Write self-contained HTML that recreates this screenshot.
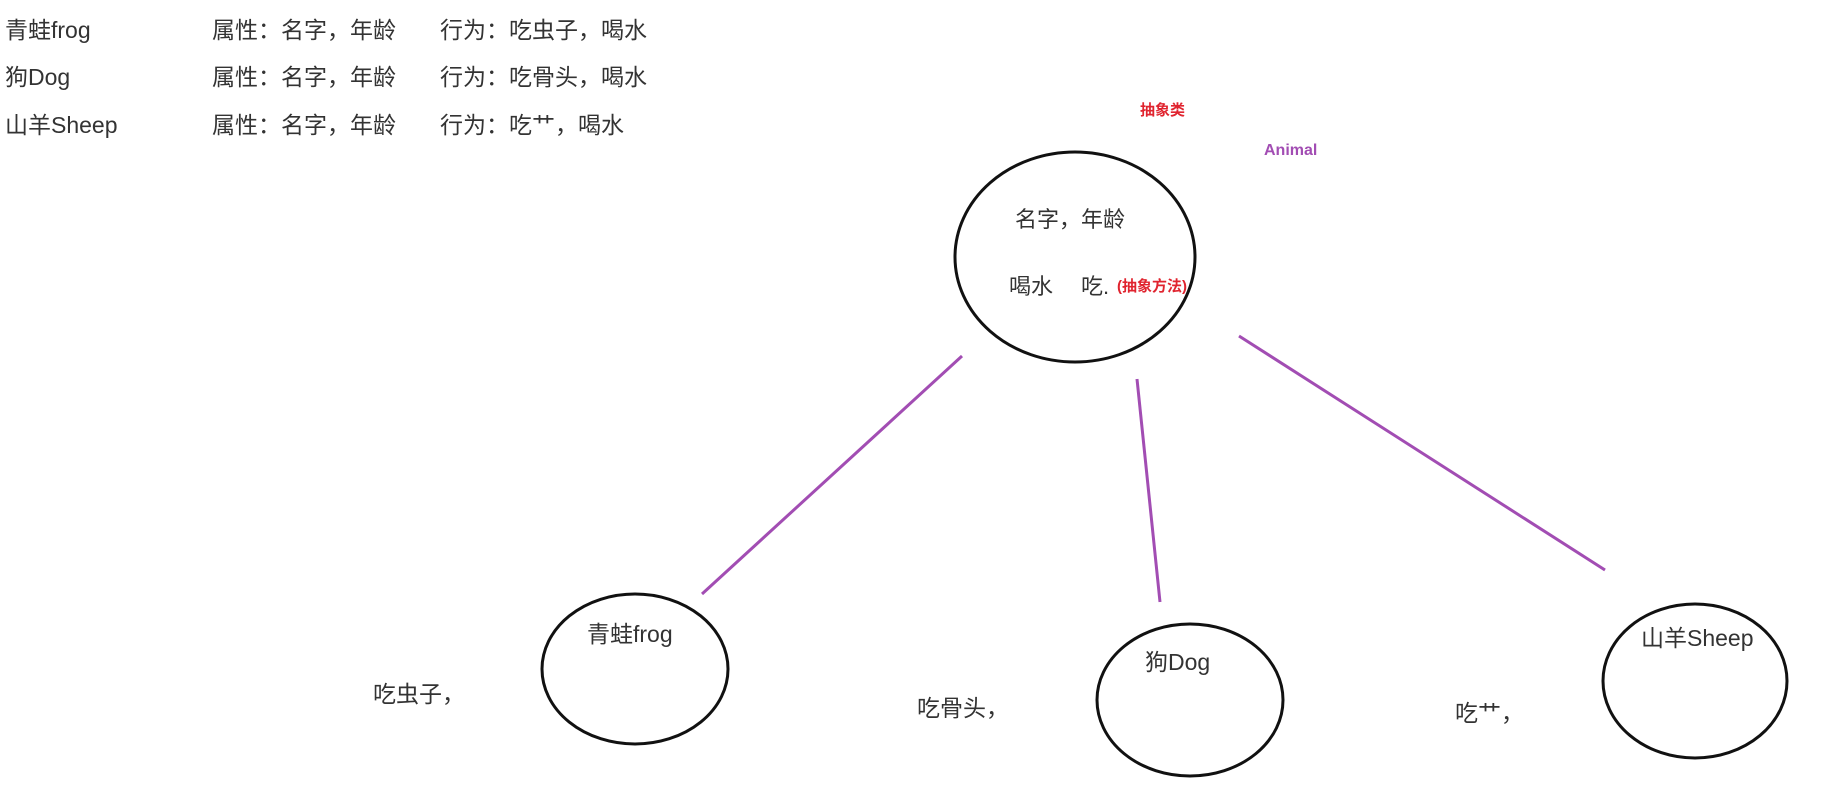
<!DOCTYPE html>
<html><head><meta charset="utf-8"><style>
html,body{margin:0;padding:0;background:#fff;width:1829px;height:799px;overflow:hidden}
.t{position:absolute;font-family:"Liberation Sans","Noto Sans CJK SC",sans-serif;font-size:23px;color:#333;white-space:nowrap;line-height:1}
.m{font-size:22px}
.r{color:#e0242f;font-weight:bold;font-size:15px}
.p{color:#a24db3;font-weight:bold;font-size:16px}
</style></head><body>
<svg width="1829" height="799" style="position:absolute;left:0;top:0">
<g fill="none" stroke="#111" stroke-width="3">
<ellipse cx="1075" cy="257" rx="120" ry="105"/>
<ellipse cx="635" cy="669" rx="93" ry="75"/>
<ellipse cx="1190" cy="700" rx="93" ry="76"/>
<ellipse cx="1695" cy="681" rx="92" ry="77"/>
</g>
<g stroke="#a24db3" stroke-width="3">
<line x1="962" y1="356" x2="702" y2="594"/>
<line x1="1137" y1="379" x2="1160" y2="602"/>
<line x1="1239" y1="336" x2="1605" y2="570"/>
</g>
</svg>
<div class="t" style="left:5px;top:19px">青蛙frog</div>
<div class="t" style="left:5px;top:66px">狗Dog</div>
<div class="t" style="left:5px;top:114px">山羊Sheep</div>
<div class="t" style="left:212px;top:19px">属性：名字，年龄</div>
<div class="t" style="left:212px;top:66px">属性：名字，年龄</div>
<div class="t" style="left:212px;top:114px">属性：名字，年龄</div>
<div class="t" style="left:440px;top:19px">行为：吃虫子，喝水</div>
<div class="t" style="left:440px;top:66px">行为：吃骨头，喝水</div>
<div class="t" style="left:440px;top:114px">行为：吃艹，喝水</div>
<div class="r t" style="left:1140px;top:103px">抽象类</div>
<div class="p t" style="left:1264px;top:143px">Animal</div>
<div class="t m" style="left:1015px;top:209px">名字，年龄</div>
<div class="t m" style="left:1009px;top:276px">喝水</div>
<div class="t m" style="left:1081px;top:276px">吃.</div>
<div class="r t" style="left:1117px;top:279px">(抽象方法)</div>
<div class="t" style="left:587px;top:623px">青蛙frog</div>
<div class="t" style="left:1145px;top:651px">狗Dog</div>
<div class="t" style="left:1641px;top:627px">山羊Sheep</div>
<div class="t" style="left:373px;top:683px">吃虫子，</div>
<div class="t" style="left:917px;top:697px">吃骨头，</div>
<div class="t" style="left:1455px;top:702px">吃艹，</div>
</body></html>
